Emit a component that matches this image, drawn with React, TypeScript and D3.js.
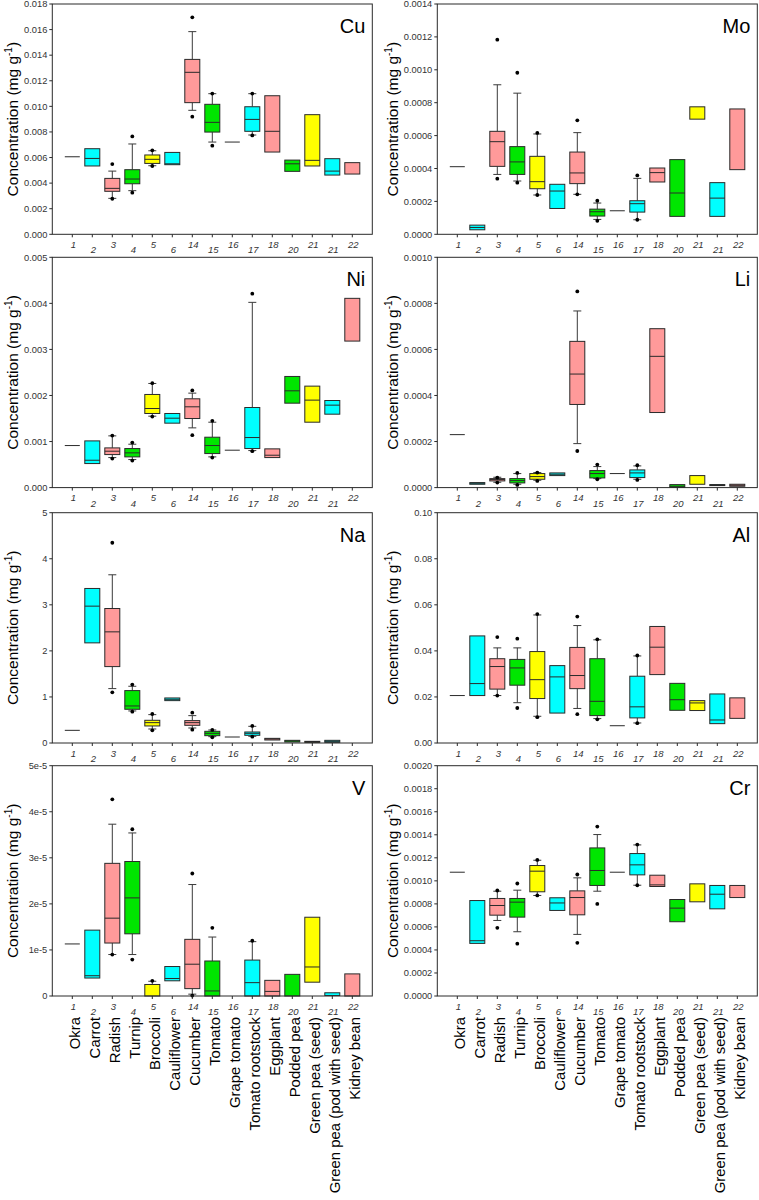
import React from "react";
import * as d3 from "d3";

type Box = [number, number | null, number, number | null, number | null, number[]];
type Stat = number | Box | null;

const categories = ["Okra", "Carrot", "Radish", "Turnip", "Broccoli", "Cauliflower", "Cucumber", "Tomato", "Grape tomato", "Tomato rootstock", "Eggplant", "Podded pea", "Green pea (seed)", "Green pea (pod with seed)", "Kidney bean"];
const tickLabels = ["1", "2", "3", "4", "5", "6", "14", "15", "16", "17", "18", "20", "21", "21", "22"];
const colorGroup = ["line", "cyan", "pink", "green", "yellow", "cyan", "pink", "green", "line", "cyan", "pink", "green", "yellow", "cyan", "pink"];

// [q1, median, q3, whiskerLow, whiskerHigh, outliers]; a plain number = single value line
const cuStats: Stat[] = [
  0.00606,
  [0.00534, 0.00593, 0.00669, null, null, []],
  [0.00336, 0.00359, 0.00437, 0.00281, 0.00494, [0.00549, 0.00278]],
  [0.00395, 0.00432, 0.00505, 0.00341, 0.00706, [0.00765, 0.00325]],
  [0.00554, 0.00586, 0.0062, 0.00536, 0.00653, [0.00656, 0.00534]],
  [0.00544, 0.00551, 0.0064, null, null, []],
  [0.01029, 0.01266, 0.01367, 0.00969, 0.01584, [0.01696, 0.00919]],
  [0.00799, 0.00875, 0.01016, 0.00721, 0.01099, [0.011, 0.00693]],
  0.00721,
  [0.00805, 0.00898, 0.00997, 0.00776, 0.01099, [0.011, 0.00773]],
  [0.00643, 0.00805, 0.01083, null, null, []],
  [0.00492, 0.00551, 0.0058, null, null, []],
  [0.00534, 0.00578, 0.00935, null, null, []],
  [0.00463, 0.00494, 0.00591, null, null, []],
  [0.00471, null, 0.0056, null, null, []],
];

const moStats: Stat[] = [
  0.000411,
  [0.0000274, 0.0000416, 0.0000558, null, null, []],
  [0.000413, 0.000563, 0.000626, 0.000364, 0.000909, [0.001183, 0.000338]],
  [0.000364, 0.00044, 0.000533, 0.000324, 0.000858, [0.000982, 0.000314]],
  [0.000277, 0.00032, 0.000474, 0.000239, 0.00061, [0.000616, 0.000239]],
  [0.000157, 0.000263, 0.000304, null, null, []],
  [0.000308, 0.000373, 0.0005, 0.000243, 0.000618, [0.000693, 0.000243]],
  [0.000111, 0.000137, 0.000153, 0.0000904, 0.00019, [0.000204, 0.0000822]],
  0.000143,
  [0.000135, 0.000186, 0.000204, 0.0000883, 0.00034, [0.000358, 0.0000883]],
  [0.000318, 0.000375, 0.000403, null, null, []],
  [0.000109, 0.000251, 0.000454, null, null, []],
  [0.0007, null, 0.000775, null, null, []],
  [0.000109, 0.00022, 0.000314, null, null, []],
  [0.000393, null, 0.000762, null, null, []],
];

const niStats: Stat[] = [
  0.000913,
  [0.000522, 0.000594, 0.001014, null, null, []],
  [0.000717, 0.00079, 0.000862, 0.000652, 0.001123, [0.00113, 0.00063]],
  [0.000667, 0.000754, 0.000848, 0.000609, 0.000942, [0.000978, 0.000587]],
  [0.001609, 0.001717, 0.002022, 0.001551, 0.002261, [0.002268, 0.001543]],
  [0.001399, 0.001507, 0.001609, null, null, []],
  [0.0015, 0.001754, 0.001928, 0.001297, 0.002051, [0.002109, 0.001138]],
  [0.000739, 0.000913, 0.001094, 0.000667, 0.00142, [0.001449, 0.000652]],
  0.000812,
  [0.000848, 0.001087, 0.001739, 0.000804, 0.004022, [0.00421, 0.00079]],
  [0.000652, 0.000703, 0.000841, null, null, []],
  [0.001833, 0.002101, 0.002413, null, null, []],
  [0.00142, 0.001899, 0.002203, null, null, []],
  [0.001594, 0.00179, 0.001891, null, null, []],
  [0.003181, null, 0.004109, null, null, []],
];

const liStats: Stat[] = [
  0.00023,
  [0.0000145, 0.0000188, 0.0000217, null, null, []],
  [0.000029, 0.0000348, 0.000039, 0.0000232, 0.0000449, [0.0000435, 0.0000217]],
  [0.0000203, 0.0000304, 0.000039, 0.0000145, 0.0000609, [0.0000638, 0.0000116]],
  [0.0000362, 0.0000478, 0.0000609, 0.0000319, 0.0000652, [0.0000652, 0.000029]],
  [0.0000522, 0.000058, 0.0000638, null, null, []],
  [0.000361, 0.000493, 0.000635, 0.000191, 0.000767, [0.000852, 0.000159]],
  [0.000042, 0.0000609, 0.0000739, 0.000039, 0.0000913, [0.0001, 0.0000362]],
  0.0000609,
  [0.0000435, 0.0000638, 0.0000768, 0.0000362, 0.0000942, [0.0000971, 0.0000333]],
  [0.000326, 0.00057, 0.00069, null, null, []],
  [0.0000014, 0.0000058, 0.000013, null, null, []],
  [0.0000145, null, 0.0000522, null, null, []],
  [0.0000087, 0.0000116, 0.000013, null, null, []],
  [0.0000058, 0.0000101, 0.0000145, null, null, []],
];

const naStats: Stat[] = [
  0.275,
  [2.174, 2.971, 3.355, null, null, []],
  [1.659, 2.413, 2.92, 1.181, 3.652, [4.348, 1.101]],
  [0.732, 0.804, 1.138, 0.696, 1.232, [1.268, 0.681]],
  [0.37, 0.442, 0.493, 0.304, 0.616, [0.63, 0.275]],
  [0.92, 0.949, 0.978, null, null, []],
  [0.384, 0.442, 0.486, 0.326, 0.594, [0.659, 0.29]],
  [0.159, 0.21, 0.254, 0.138, 0.283, [0.283, 0.123]],
  0.13,
  [0.167, 0.21, 0.239, 0.145, 0.362, [0.37, 0.138]],
  [0.065, 0.087, 0.101, null, null, []],
  [0.022, 0.043, 0.058, null, null, []],
  [0.014, 0.025, 0.036, null, null, []],
  [0.014, 0.036, 0.058, null, null, []],
  null,
];

const alStats: Stat[] = [
  0.0206,
  [0.0206, 0.0258, 0.0465, null, null, []],
  [0.0234, 0.0332, 0.0366, 0.0206, 0.0413, [0.046, 0.0206]],
  [0.0251, 0.0326, 0.0363, 0.0175, 0.0413, [0.0453, 0.0152]],
  [0.0193, 0.0275, 0.0397, 0.0116, 0.0556, [0.056, 0.0112]],
  [0.013, 0.0287, 0.0336, null, null, []],
  [0.0236, 0.0293, 0.0415, 0.015, 0.051, [0.0549, 0.0125]],
  [0.0119, 0.0181, 0.0366, 0.0106, 0.0448, [0.045, 0.0103]],
  0.0075,
  [0.0109, 0.0157, 0.029, 0.0087, 0.0378, [0.038, 0.0086]],
  [0.0297, 0.0416, 0.0506, null, null, []],
  [0.0142, 0.0188, 0.0259, null, null, []],
  [0.0141, 0.0174, 0.0184, null, null, []],
  [0.0084, 0.01, 0.0213, null, null, []],
  [0.0107, null, 0.0196, null, null, []],
];

const vStats: Stat[] = [
  1.13e-5,
  [3.9e-6, 4.4e-6, 1.43e-5, null, null, []],
  [1.15e-5, 1.69e-5, 2.88e-5, 9.0e-6, 3.73e-5, [4.27e-5, 9.0e-6]],
  [1.35e-5, 2.13e-5, 2.92e-5, 9.0e-6, 3.54e-5, [3.62e-5, 7.9e-6]],
  [0, null, 2.5e-6, null, 3.2e-6, [3.3e-6]],
  [3.3e-6, 3.8e-6, 6.4e-6, null, null, []],
  [1.6e-6, 6.9e-6, 1.23e-5, 4e-7, 2.42e-5, [2.66e-5, 1e-7]],
  [0, 1.1e-6, 7.6e-6, null, 1.28e-5, [1.48e-5]],
  null,
  [0, 2.9e-6, 7.8e-6, null, 1.18e-5, [1.2e-5]],
  [0, 1.0e-6, 3.4e-6, null, null, []],
  [0, null, 4.7e-6, null, null, []],
  [3.0e-6, 6.3e-6, 1.71e-5, null, null, []],
  [1e-7, null, 7e-7, null, null, []],
  [0, null, 4.8e-6, null, null, []],
];

const crStats: Stat[] = [
  0.001075,
  [0.000457, 0.00048, 0.000829, null, null, []],
  [0.000702, 0.000786, 0.000847, 0.000656, 0.00091, [0.000916, 0.000592]],
  [0.000685, 0.000815, 0.000847, 0.000558, 0.000919, [0.000977, 0.000454]],
  [0.000905, 0.001084, 0.001133, 0.000873, 0.001179, [0.001182, 0.000873]],
  [0.000743, 0.000808, 0.000853, null, null, []],
  [0.000705, 0.000855, 0.000913, 0.000535, 0.001026, [0.001055, 0.000462]],
  [0.00096, 0.00109, 0.001286, 0.00091, 0.001402, [0.001471, 0.0008]],
  0.001075,
  [0.001052, 0.001139, 0.001237, 0.000962, 0.001312, [0.001315, 0.000962]],
  [0.000951, 0.000965, 0.001049, null, null, []],
  [0.000645, 0.000763, 0.000838, null, null, []],
  [0.000818, null, 0.000974, null, null, []],
  [0.000757, 0.000884, 0.00096, null, null, []],
  [0.000855, null, 0.00096, null, null, []],
];

const cuTicks = ["0.000", "0.002", "0.004", "0.006", "0.008", "0.010", "0.012", "0.014", "0.016", "0.018"];
const moTicks = ["0.0000", "0.0002", "0.0004", "0.0006", "0.0008", "0.0010", "0.0012", "0.0014"];
const niTicks = ["0.000", "0.001", "0.002", "0.003", "0.004", "0.005"];
const liTicks = ["0.0000", "0.0002", "0.0004", "0.0006", "0.0008", "0.0010"];
const naTicks = ["0", "1", "2", "3", "4", "5"];
const alTicks = ["0.00", "0.02", "0.04", "0.06", "0.08", "0.10"];
const vTicks = ["0", "1e-5", "2e-5", "3e-5", "4e-5", "5e-5"];
const crTicks = ["0.0000", "0.0002", "0.0004", "0.0006", "0.0008", "0.0010", "0.0012", "0.0014", "0.0016", "0.0018", "0.0020"];

const panels = [
  { name: "Cu", stats: cuStats, ticks: cuTicks },
  { name: "Mo", stats: moStats, ticks: moTicks },
  { name: "Ni", stats: niStats, ticks: niTicks },
  { name: "Li", stats: liStats, ticks: liTicks },
  { name: "Na", stats: naStats, ticks: naTicks },
  { name: "Al", stats: alStats, ticks: alTicks },
  { name: "V", stats: vStats, ticks: vTicks },
  { name: "Cr", stats: crStats, ticks: crTicks },
];

const palette: Record<string, string> = {
  cyan: "#00FFFF",
  pink: "#FF9A9A",
  green: "#00E600",
  yellow: "#FFFF00",
  line: "none",
};

const COL_X0 = [52.3, 437.3];
const COL_ORIGIN = [0, 380];
const PANEL_W = 320;
const ROW_Y0 = [4, 257.3, 512.7, 765.7];
const PANEL_H = 230.3;
const FONT = "'Liberation Sans', Arial, Helvetica, sans-serif";

function Panel({ idx }: { idx: number }) {
  const p = panels[idx];
  const col = idx % 2;
  const row = Math.floor(idx / 2);
  const x0 = COL_X0[col];
  const x1 = x0 + PANEL_W;
  const y0 = ROW_Y0[row];
  const y1 = y0 + PANEL_H;
  const tickVals = p.ticks.map((t) => +t);
  const ymax = tickVals[tickVals.length - 1];
  const x = d3.scaleLinear().domain([0, 16]).range([x0, x1]);
  const y = d3.scaleLinear().domain([0, ymax]).range([y1, y0]);
  const bw = 7.5;
  const cw = 4;
  const stroke = "#2a2a2a";

  return (
    <g>
      {tickVals.map((v, i) => (
        <g key={"yt" + i}>
          <line x1={x0 - 3} x2={x0} y1={y(v)} y2={y(v)} stroke={stroke} strokeWidth={1} />
          <text x={x0 - 5} y={y(v)} dy="0.35em" textAnchor="end" fontSize={9.3} fill="#333" fontFamily={FONT}>
            {p.ticks[i]}
          </text>
        </g>
      ))}
      {tickLabels.map((t, i) => (
        <g key={"xt" + i}>
          <line x1={x(i + 1)} x2={x(i + 1)} y1={y1} y2={y1 + 3} stroke={stroke} strokeWidth={1} />
          <text x={x(i + 1) + 1} y={y1 + (i % 2 === 0 ? 13.5 : 19)} textAnchor="middle" fontSize={9.5} fontStyle="italic" fill="#333" fontFamily={FONT}>
            {t}
          </text>
        </g>
      ))}
      {p.stats.map((s, i) => {
        const cx = x(i + 1);
        if (s === null) return null;
        if (typeof s === "number") {
          return <line key={"b" + i} x1={cx - bw} x2={cx + bw} y1={y(s)} y2={y(s)} stroke={stroke} strokeWidth={1} />;
        }
        const [q1, med, q3, lo, hi, outs] = s;
        const fill = palette[colorGroup[i]];
        return (
          <g key={"b" + i}>
            {hi !== null && (
              <g>
                <line x1={cx} x2={cx} y1={y(q3)} y2={y(hi)} stroke="#3a3a3a" strokeWidth={1} />
                <line x1={cx - cw} x2={cx + cw} y1={y(hi)} y2={y(hi)} stroke="#3a3a3a" strokeWidth={1} />
              </g>
            )}
            {lo !== null && (
              <g>
                <line x1={cx} x2={cx} y1={y(q1)} y2={y(lo)} stroke="#3a3a3a" strokeWidth={1} />
                <line x1={cx - cw} x2={cx + cw} y1={y(lo)} y2={y(lo)} stroke="#3a3a3a" strokeWidth={1} />
              </g>
            )}
            <rect x={cx - bw} y={y(q3)} width={bw * 2} height={Math.max(0.5, y(q1) - y(q3))} fill={fill} stroke={stroke} strokeWidth={1} />
            {med !== null && <line x1={cx - bw} x2={cx + bw} y1={y(med)} y2={y(med)} stroke={stroke} strokeWidth={1} />}
            {outs.map((o, j) => (
              <circle key={j} cx={cx} cy={y(o)} r={1.9} fill="#000" />
            ))}
          </g>
        );
      })}
      <rect x={x0} y={y0} width={PANEL_W} height={PANEL_H} fill="none" stroke={stroke} strokeWidth={1} />
      <text x={x1 - 7} y={y0 + 29} textAnchor="end" fontSize={20} fill="#000" fontFamily={FONT}>
        {p.name}
      </text>
      <text transform={`translate(${COL_ORIGIN[col] + 17.5},${(y0 + y1) / 2}) rotate(-90)`} textAnchor="middle" fontSize={15.5} fill="#000" fontFamily={FONT}>
        Concentration (mg g
        <tspan dy={-6} fontSize={10}>-1</tspan>
        <tspan dy={6}>)</tspan>
      </text>
      {row === 3 &&
        categories.map((c, i) => (
          <text key={"c" + i} transform={`translate(${x(i + 1) + 7.5},1017) rotate(-90)`} textAnchor="end" fontSize={14.9} fill="#000" fontFamily={FONT}>
            {c}
          </text>
        ))}
    </g>
  );
}

export default function App() {
  return (
    <svg width={759} height={1200} style={{ position: "absolute", left: 0, top: 0, background: "#fff" }}>
      <rect width={759} height={1200} fill="#fff" />
      {panels.map((_, i) => (
        <Panel key={i} idx={i} />
      ))}
    </svg>
  );
}
